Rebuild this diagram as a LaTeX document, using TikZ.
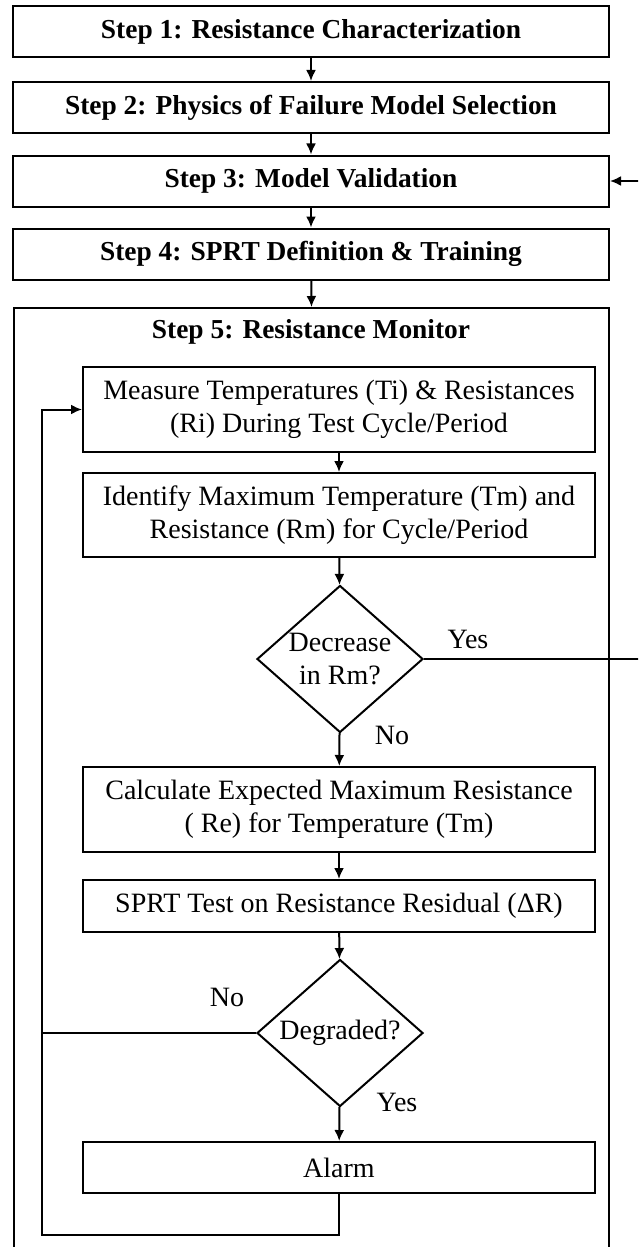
\documentclass[tikz,border=0pt]{standalone}
\usepackage{fontspec}
\setmainfont{Liberation Serif}
\usetikzlibrary{shapes.geometric,arrows.meta}
\begin{document}
\begin{tikzpicture}[x=0.5pt,y=-0.5pt,
  every node/.style={font=\fontsize{14}{16.5}\selectfont},
  stepfont/.style={font=\fontsize{13.7}{16}\selectfont\bfseries},
  stepbox/.style={draw,line width=1pt,minimum width=298pt,minimum height=25.5pt,inner sep=0pt,stepfont},
  innerbox/.style={draw,line width=1pt,minimum width=256pt,inner sep=0pt,align=center},
  decide/.style={diamond,draw,line width=1pt,aspect=1.13,inner sep=-5pt,minimum width=83pt,minimum height=73.5pt,align=center},
  arr/.style={line width=1pt,-{Latex[length=5.5pt,width=5pt]}},
  conn/.style={line width=1pt},
  lbl/.style={inner sep=0pt}
]
\useasboundingbox (0,0) rectangle (638,1247);
\clip (0,0) rectangle (638,1247);

\node[stepbox] (s1) at (311,31.5) {Step 1: Resistance Characterization};
\node[stepbox] (s2) at (311,107.5) {Step 2: Physics of Failure Model Selection};
\node[stepbox] (s3) at (311,181) {Step 3: Model Validation};
\node[stepbox] (s4) at (311,254) {Step 4: SPRT Definition \& Training};
\node[draw,line width=1pt,minimum width=297.5pt,minimum height=480pt,anchor=north,inner sep=0pt] (outer) at (311.5,307) {};
\node[stepfont] (t5) at (311,332) {Step 5: Resistance Monitor};

\node[innerbox,minimum height=42.5pt] (m) at (339,409.5) {Measure Temperatures (Ti) \& Resistances\\(Ri) During Test Cycle/Period};
\node[innerbox,minimum height=42pt] (id) at (339,515) {Identify Maximum Temperature (Tm) and\\Resistance (Rm) for Cycle/Period};
\node[decide] (dec) at (340,659) {Decrease\\in Rm?};
\node[innerbox,minimum height=42.5pt] (calc) at (339,809.5) {Calculate Expected Maximum Resistance\\( Re) for Temperature (Tm)};
\node[innerbox,minimum height=26pt] (sprt) at (339,906) {SPRT Test on Resistance Residual (ΔR)};
\node[decide] (deg) at (340,1033) {Degraded?};
\node[innerbox,minimum height=25.5pt] (alarm) at (339,1167.5) {Alarm};

\node[lbl] (ly1) at (468,639) {Yes};
\node[lbl] (ln1) at (392,735) {No};
\node[lbl] (ln2) at (227,997) {No};
\node[lbl] (ly2) at (397,1102) {Yes};

\coordinate (lb) at (42,1235);
\coordinate (rr) at (660,659);

\draw[arr] (s1) -- (s2);
\draw[arr] (s2) -- (s3);
\draw[arr] (s3) -- (s4);
\draw[arr] (s4) -- (outer.north);
\draw[arr] (m) -- (id);
\draw[arr] (id) -- (dec);
\draw[arr] (dec) -- (calc);
\draw[arr] (calc) -- (sprt);
\draw[arr] (sprt) -- (deg);
\draw[arr] (deg) -- (alarm);
\draw[arr] (dec.east) -- (rr) |- (s3.east);
\draw[arr] (alarm.south) |- (lb) |- (m.west);
\draw[conn] (deg.west) -- (deg.west -| lb);
\end{tikzpicture}
\end{document}
